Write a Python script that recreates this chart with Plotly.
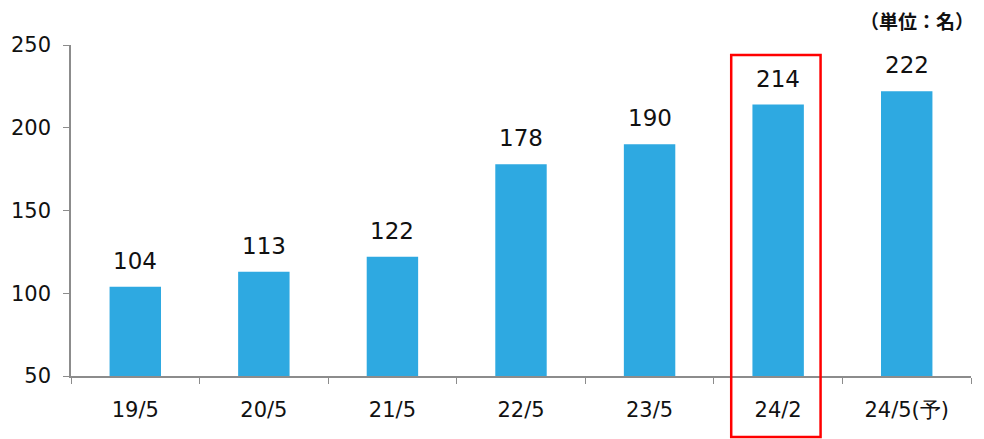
import plotly.graph_objects as go

categories = ["19/5", "20/5", "21/5", "22/5", "23/5", "24/2", "24/5(予)"]
values = [104, 113, 122, 178, 190, 214, 222]
highlight = "24/2"
unit_label = "（単位：名）"

bar_color = "#2EA9E1"
axis_color = "#8C8C8C"
font_family = "DejaVu Sans, Verdana, sans-serif"

fig = go.Figure()
fig.add_trace(go.Bar(
    x=categories, y=values, marker=dict(color=bar_color, line=dict(width=0)),
    width=0.4, showlegend=False, hoverinfo="skip",
))

for c, v in zip(categories, values):
    fig.add_annotation(x=c, y=v, text=str(v), showarrow=False, yanchor="bottom",
                       yshift=11, font=dict(family=font_family, size=23, color="#111111"))

hi = categories.index(highlight)
fig.add_shape(type="rect", xref="x", yref="paper",
              x0=hi - 0.365, x1=hi + 0.33, y0=-0.184, y1=0.97,
              line=dict(color="#FF0000", width=2.5), fillcolor="rgba(0,0,0,0)", layer="above")

fig.add_annotation(xref="paper", yref="paper", x=1.0, y=1.0, xanchor="right", yanchor="middle",
                   xshift=5, yshift=25, text="<b>" + unit_label + "</b>", showarrow=False,
                   font=dict(family="Noto Sans CJK JP", size=19, color="#111111"))

fig.update_layout(
    width=976, height=431,
    margin=dict(l=63, r=13, t=37, b=63),
    paper_bgcolor="white", plot_bgcolor="white",
    bargap=0.6,
)
fig.update_xaxes(
    type="category", tickson="boundaries", ticks="outside", ticklen=6, tickcolor=axis_color,
    showline=True, linecolor=axis_color, linewidth=1.5, showgrid=False, automargin=False,
    tickfont=dict(family=font_family, size=21, color="#111111"), ticklabelstandoff=14,
)
fig.update_yaxes(
    range=[50, 250], dtick=50, ticks="outside", ticklen=6, tickcolor=axis_color,
    showline=True, linecolor=axis_color, linewidth=1.5, showgrid=False, zeroline=False,
    automargin=False,
    tickfont=dict(family=font_family, size=21, color="#111111"), ticklabelstandoff=8,
)

fig.write_html("out.html")
